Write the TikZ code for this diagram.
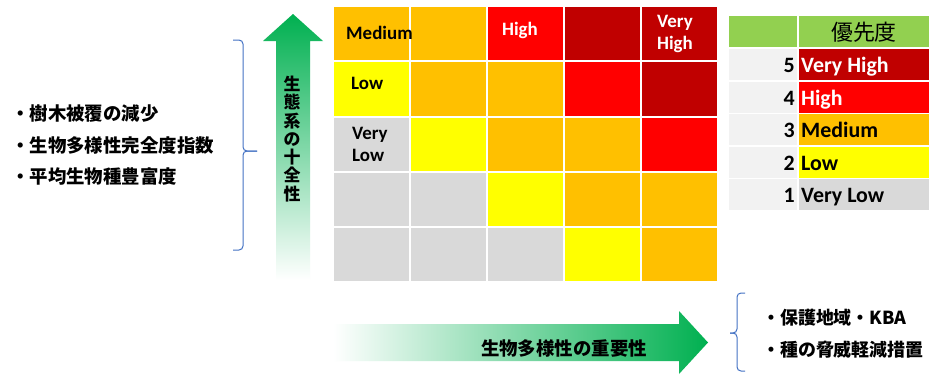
\documentclass[tikz,border=0pt]{standalone}
\usepackage{fontspec}
\setmainfont{Carlito}
\newfontfamily\cjk{Noto Sans CJK JP}
\definecolor{cO}{HTML}{FFC000}
\definecolor{cR}{HTML}{FF0000}
\definecolor{cD}{HTML}{C00000}
\definecolor{cY}{HTML}{FFFF00}
\definecolor{cG}{HTML}{D9D9D9}
\definecolor{cL}{HTML}{F2F2F2}
\definecolor{hdr}{HTML}{92D050}
\definecolor{arrG}{HTML}{00B050}
\definecolor{arrM}{HTML}{78B83C}
\definecolor{brace}{HTML}{4472C4}
\tikzset{
  cell/.style={draw=none, minimum width=75bp, minimum height=53.2bp, inner sep=0, anchor=north west},
  lcell/.style={draw=none, minimum height=31bp, inner sep=0, anchor=north west},
  mlab/.style={font=\bfseries\fontsize{19}{20}\selectfont, inner sep=0},
  mlab2/.style={font=\bfseries\fontsize{19}{22}\selectfont, inner sep=0},
  leglab/.style={font=\bfseries\fontsize{22}{24}\selectfont, inner sep=0, anchor=base west},
  jtext/.style={font=\cjk\bfseries\fontsize{18.5}{20}\selectfont, inner sep=0, anchor=west},
  bracestyle/.style={draw=brace, line width=1bp, rounded corners=4bp},
}
\begin{document}
\begin{tikzpicture}[x=1bp, y=-1bp]
\useasboundingbox (0,0) rectangle (951,374);
\fill[white] (0,0) rectangle (951,374);
% matrix
\foreach \row [count=\r from 0] in {{O,O,R,D,D},{Y,O,O,R,D},{G,Y,O,O,R},{G,G,Y,O,O},{G,G,G,Y,O}}{
  \foreach \c [count=\k from 0] in \row {
    \node[cell, fill=c\c] (m-\r-\k) at (334+\k*77, 7+\r*55.2) {};
  }
}
\node[mlab, anchor=west] (lmed) at (346,33) {Medium};
\node[mlab, anchor=west] (llow) at (351,83) {Low};
\node[mlab2, anchor=west, align=left] (lvlow) at (352,144) {Very\\Low};
\node[mlab, text=white] (lhigh) at (520,30) {High};
\node[mlab2, text=white, align=center] (lvhigh) at (675,34) {Very\\High};
% legend
\node[lcell, fill=hdr, minimum width=68bp] (h0) at (729,16) {};
\node[lcell, fill=hdr, minimum width=130bp] (h1) at (799,16) {};
\node[font=\cjk\fontsize{22}{24}\selectfont, inner sep=0] (hdrtxt) at (864,32) {優先度};
\foreach \n/\col/\txt/\tc [count=\i from 0] in {5/cD/Very High/white,4/cR/High/white,3/cO/Medium/black,2/cY/Low/black,1/cG/Very Low/black}{
  \node[lcell, fill=cL, minimum width=68bp] (ln-\n) at (729,49+\i*32.5) {};
  \node[lcell, fill=\col, minimum width=130bp] (lc-\n) at (799,49+\i*32.5) {};
  \node[leglab, anchor=base east] (num-\n) at (795,72.5+\i*32.5) {\n};
  \node[leglab, text=\tc] (lt-\n) at (801,72.5+\i*32.5) {\txt};
}
% left text
\node[jtext] (t1) at (11,114) {・樹木被覆の減少};
\node[jtext] (t2) at (11,145) {・生物多様性完全度指数};
\node[jtext] (t3) at (11,176) {・平均生物種豊富度};
\draw[bracestyle] (233,40) -- (243,40) -- (243,151) -- (257,151);
\draw[bracestyle] (257,151) -- (243,151) -- (243,250) -- (233,250);
% vertical arrow
\path[top color=arrG, middle color=arrM, bottom color=white]
  (276,280) -- (276,41) -- (263,41) -- (293,14) -- (323,41) -- (310,41) -- (310,280) -- cycle;
\node[font=\cjk\bfseries\fontsize{17}{18.3}\selectfont, align=center, inner sep=0] (vt) at (292,139) {生\\態\\系\\の\\十\\全\\性};
% horizontal arrow
\path[left color=white, middle color=arrM, right color=arrG]
  (333,324) -- (679,324) -- (679,311) -- (708,342.5) -- (679,374) -- (679,361) -- (333,361) -- cycle;
\node[font=\cjk\bfseries\fontsize{18.5}{20}\selectfont, inner sep=0] (ht) at (564,348) {生物多様性の重要性};
% right text
\draw[bracestyle] (745,293) -- (737,293) -- (737,333) -- (730,333);
\draw[bracestyle] (730,333) -- (737,333) -- (737,371) -- (745,371);
\node[jtext, font=\cjk\bfseries\fontsize{18}{20}\selectfont] (r1) at (762,318) {・保護地域・KBA};
\node[jtext, font=\cjk\bfseries\fontsize{18}{20}\selectfont] (r2) at (762,350) {・種の脅威軽減措置};
\end{tikzpicture}
\end{document}
